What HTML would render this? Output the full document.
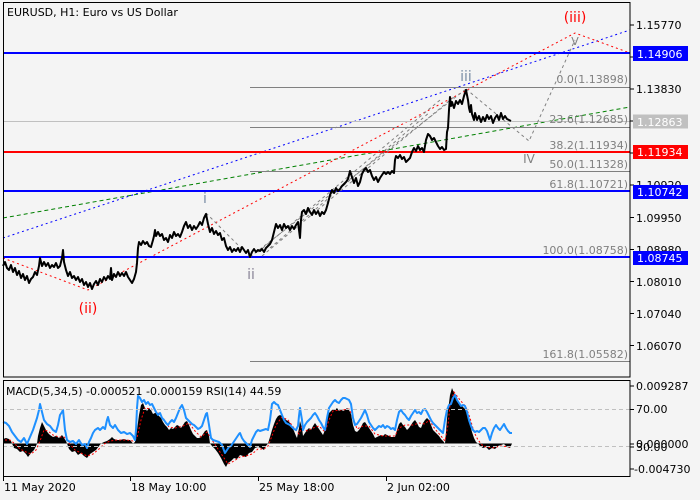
<!DOCTYPE html>
<html><head><meta charset="utf-8"><style>
html,body{margin:0;padding:0;background:#f4f4f4;}
svg{display:block;font-family:"DejaVu Sans","Liberation Sans",sans-serif;}
</style></head><body>
<svg width="700" height="500" viewBox="0 0 700 500" xmlns="http://www.w3.org/2000/svg">
<rect width="700" height="500" fill="#f4f4f4"/>
<text x="7" y="16" font-size="11" fill="#000">EURUSD, H1:  Euro vs US Dollar</text>

<!-- trend lines -->
<polyline points="3,218 630,107" fill="none" stroke="#008000" stroke-width="1" stroke-dasharray="4,3"/>
<polyline points="3,238 630,30" fill="none" stroke="#0000ff" stroke-width="1" stroke-dasharray="2,3"/>
<polyline points="3,258 88,290 575,33 630,53" fill="none" stroke="#ff0000" stroke-width="1" stroke-dasharray="2,3"/>

<!-- horizontal levels -->
<line x1="3" y1="121.5" x2="630" y2="121.5" stroke="#c0c0c0" stroke-width="1"/>
<g stroke="#808080" stroke-width="1">
<line x1="250" y1="87.5" x2="630" y2="87.5"/>
<line x1="250" y1="127.5" x2="630" y2="127.5"/>
<line x1="250" y1="151.5" x2="630" y2="151.5"/>
<line x1="250" y1="171.5" x2="630" y2="171.5"/>
<line x1="250" y1="191.5" x2="630" y2="191.5"/>
<line x1="250" y1="256.5" x2="630" y2="256.5"/>
<line x1="250" y1="361.5" x2="630" y2="361.5"/>
</g>
<g fill="#808080" font-size="11" text-anchor="end">
<text x="628" y="83">0.0(1.13898)</text>
<text x="628" y="123">23.6(1.12685)</text>
<text x="628" y="149">38.2(1.11934)</text>
<text x="628" y="168">50.0(1.11328)</text>
<text x="628" y="188">61.8(1.10721)</text>
<text x="628" y="254">100.0(1.08758)</text>
<text x="628" y="358">161.8(1.05582)</text>
</g>
<line x1="3" y1="53" x2="630" y2="53" stroke="#0000ff" stroke-width="2"/>
<line x1="3" y1="152" x2="630" y2="152" stroke="#ff0000" stroke-width="2"/>
<line x1="3" y1="191" x2="630" y2="191" stroke="#0000ff" stroke-width="2"/>
<line x1="3" y1="257" x2="630" y2="257" stroke="#0000ff" stroke-width="2"/>

<!-- wave dashed lines -->
<g fill="none" stroke="#808080" stroke-width="1" stroke-dasharray="3,3">
<polyline points="206,213 250,257"/>
<polyline points="466,89 529,141 575,40"/>
<polyline points="250,257 466,89"/>
<polyline points="258,252 440,100"/>
<polyline points="262,256 455,96"/>
<polyline points="270,248 430,112"/>
</g>

<!-- price -->
<polyline fill="none" stroke="#000" stroke-width="2" stroke-linejoin="round" points="3,266 5,262 7,268 9,270 11,265 13,272 15,268 17,275 19,271 21,278 23,274 25,280 27,276 29,283 31,279 33,277 35,272 37,275 39,266 40,258 42,266 44,262 46,266 48,263 50,268 52,265 54,267 56,263 58,268 60,266 62,258 63,250 64,262 66,270 68,276 70,272 72,278 74,276 76,280 78,277 80,282 82,279 84,285 86,282 88,287 90,283 92,289 94,284 96,281 98,285 100,279 102,282 104,277 106,280 108,276 110,279 111,268 112,280 114,274 116,277 118,272 120,276 122,273 124,276 126,272 128,277 130,280 132,283 134,279 136,272 137,263 138,248 139,242 141,245 143,241 145,244 147,242 149,246 151,247 153,240 154,236 155,230 156,236 158,232 160,236 162,234 164,240 166,238 168,242 170,235 172,238 174,232 176,236 178,234 180,237 182,232 184,226 186,222 188,228 190,225 192,230 194,226 196,229 198,226 200,222 202,225 204,218 206,214 208,224 210,232 212,228 214,234 216,231 218,235 220,233 222,240 224,238 226,246 228,250 230,247 232,252 234,249 236,251 238,248 240,252 242,247 244,250 246,253 248,250 250,257 252,252 254,249 256,252 258,250 260,251 262,249 264,252 266,248 268,246 270,244 272,240 274,232 276,224 278,228 280,225 282,230 284,224 286,228 288,226 290,230 292,226 294,229 296,225 298,222 299,230 300,238 301,220 302,212 304,210 306,214 308,208 310,212 312,215 314,210 316,214 318,211 320,216 322,212 324,214 326,210 328,203 330,195 332,190 334,193 336,188 338,191 340,189 342,186 344,184 346,182 348,179 350,171 352,177 354,183 356,178 358,186 360,182 362,174 364,170 366,168 368,172 370,170 372,176 374,180 376,177 378,182 380,178 382,175 384,172 386,174 388,172 390,174 392,171 394,173 395,160 396,156 398,158 400,155 402,159 404,157 406,162 408,160 410,158 412,152 414,148 416,151 418,146 420,150 422,148 424,152 426,140 428,134 430,136 432,140 434,138 436,142 438,146 440,149 442,147 444,150 446,149 447,132 448,128 449,110 450,97 451,106 452,102 454,108 456,101 458,104 460,100 462,104 464,96 466,90 467,95 468,100 469,108 470,112 471,105 472,114 474,120 475,113 477,120 479,116 481,122 483,117 485,121 487,115 489,119 491,116 493,123 495,118 497,115 499,120 501,113 503,119 505,116 507,119 509,120 511,121"/>

<!-- wave labels -->
<text x="575" y="22" font-size="14" fill="#ff0000" text-anchor="middle">(iii)</text>
<text x="88" y="313" font-size="14" fill="#ff0000" text-anchor="middle">(ii)</text>
<text x="466" y="81" font-size="14" fill="#7a8ea6" text-anchor="middle">iii</text>
<text x="205" y="203" font-size="14" fill="#7a8ea6" text-anchor="middle">i</text>
<text x="251" y="279" font-size="14" fill="#8a8598" text-anchor="middle">ii</text>
<text x="529" y="163" font-size="12" fill="#808080" text-anchor="middle">IV</text>
<text x="575" y="45" font-size="11" fill="#808080" text-anchor="middle">V</text>

<!-- main frame -->
<rect x="3.5" y="2.5" width="626.5" height="374.5" fill="none" stroke="#000" stroke-width="1"/>

<!-- right axis ticks/labels -->
<g stroke="#000" stroke-width="1">
<line x1="630" y1="25" x2="634" y2="25"/><line x1="630" y1="57" x2="634" y2="57"/>
<line x1="630" y1="89" x2="634" y2="89"/><line x1="630" y1="121" x2="634" y2="121"/>
<line x1="630" y1="153" x2="634" y2="153"/><line x1="630" y1="185" x2="634" y2="185"/>
<line x1="630" y1="217.5" x2="634" y2="217.5"/><line x1="630" y1="249.5" x2="634" y2="249.5"/>
<line x1="630" y1="281.5" x2="634" y2="281.5"/><line x1="630" y1="313.5" x2="634" y2="313.5"/>
<line x1="630" y1="345.5" x2="634" y2="345.5"/>
</g>
<g font-size="11" fill="#000">
<text x="636" y="29">1.15770</text>
<text x="636" y="61">1.14800</text>
<text x="636" y="93">1.13830</text>
<text x="636" y="125">1.12860</text>
<text x="636" y="157">1.11890</text>
<text x="636" y="189">1.10920</text>
<text x="636" y="222">1.09950</text>
<text x="636" y="254">1.08980</text>
<text x="636" y="286">1.08010</text>
<text x="636" y="318">1.07040</text>
<text x="636" y="350">1.06070</text>
</g>
<rect x="633" y="46" width="55" height="15" fill="#0000ff"/>
<rect x="633" y="114.5" width="55" height="14" fill="#c0c0c0"/>
<rect x="633" y="145" width="55" height="14" fill="#ff0000"/>
<rect x="633" y="185" width="55" height="14" fill="#0000ff"/>
<rect x="633" y="251" width="55" height="14" fill="#0000ff"/>
<g font-size="11" fill="#fff">
<text x="637" y="58">1.14906</text>
<text x="637" y="126">1.12863</text>
<text x="637" y="156">1.11934</text>
<text x="637" y="196">1.10742</text>
<text x="637" y="262">1.08745</text>
</g>

<!-- MACD panel -->
<polygon fill="#000" points="3,443.5 3,439 6,438 9,439 11,441 12,443.5 14,448 17,449 20,452 23,451 26,454 28,457 31,453 34,450 36,446 37,443.5 38,436 40,428 42,422 44,426 46,430 48,433 50,435 53,437 56,436 59,438 62,435 64,438 66,441 67,443.5 69,449 72,452 75,451 78,455 81,453 84,456 87,458 90,454 93,452 96,450 99,446 101,443.5 104,442 107,441 110,439 112,437 114,439 117,440 120,440 124,439 127,440 130,440 133,443.5 135,442 137,430 139,415 141,405 143,403 145,408 147,411 149,408 151,410 153,414 155,413 157,412 159,416 161,418 163,422 165,425 167,427 169,430 171,428 173,429 175,427 177,425 179,426 181,428 183,425 185,422 187,421 189,425 191,430 193,434 195,436 197,438 199,438 201,437 203,434 205,431 207,430 209,436 210,443.5 212,446 215,449 218,453 221,458 224,464 226,467 228,463 231,461 234,458 237,459 240,455 243,456 246,457 249,453 252,452 255,448 258,447 261,448 264,450 266,446 268,443.5 270,437 272,430 274,424 276,419 278,416 280,415 282,416 284,418 286,420 288,421 290,423 292,427 294,431 296,436 297,438 299,428 300,421 302,428 303,436 305,433 307,430 309,428 311,430 313,426 315,423 317,426 319,429 321,432 323,435 325,430 327,420 329,413 331,411 333,409 335,410 337,408 339,411 341,409 343,411 345,410 347,408 349,410 351,414 353,425 355,431 357,432 359,430 361,427 363,423 365,422 367,425 369,428 371,431 373,434 375,438 377,437 379,436 381,435 383,436 385,434 387,435 389,436 391,437 393,437 395,437 397,430 399,424 401,422 403,425 405,427 407,430 409,428 411,425 413,422 415,420 417,423 419,427 421,428 423,423 425,420 427,418 429,420 431,425 433,430 435,432 437,434 439,436 441,439 443,441 445,443.5 446,432 447,418 448,410 449,403 450,395 452,388 454,393 456,398 458,401 460,404 462,406 464,408 466,410 468,418 470,425 472,432 474,438 476,442 478,443.5 480,446 483,448 486,447 489,450 492,448 495,449 498,446 501,445 504,444 507,447 510,448 512,443.5"/>
<polyline fill="none" stroke="#ff0000" stroke-width="1" stroke-dasharray="2,2" points="5,440 10,440 14,443 20,449 26,452 31,454 36,450 40,441 44,430 48,431 53,435 59,437 64,437 69,443 75,450 81,453 87,456 93,454 99,449 104,444 110,441 117,440 127,440 133,441 137,438 141,420 145,408 151,409 157,412 163,418 169,427 175,428 183,426 189,423 195,431 201,437 207,432 212,440 218,449 224,458 228,464 234,461 240,457 246,456 252,454 258,449 264,449 268,446 272,436 276,425 282,417 288,420 294,428 299,434 302,426 307,431 313,428 319,426 325,432 329,420 333,411 341,410 349,409 353,417 357,429 363,426 369,426 375,434 383,436 395,436 399,428 405,425 413,425 419,423 425,424 429,420 435,429 441,436 445,441 448,425 450,405 454,392 460,400 466,407 470,418 474,432 478,440 483,446 492,448 501,446 510,447"/>
<polyline fill="none" stroke="#1e90ff" stroke-width="2" stroke-linejoin="round" points="3,422 6,423 9,426 12,432 15,436 18,440 21,442 24,438 27,444 30,437 33,430 35,424 37,418 39,410 40,404 42,412 44,420 47,424 50,426 53,430 56,432 58,425 60,415 62,412 63,410 65,430 67,440 70,442 73,441 76,444 79,440 82,445 85,444 87,448 89,442 91,438 93,433 95,430 98,428 100,430 103,427 105,429 107,420 108,417 110,425 113,428 115,425 118,430 121,433 124,432 127,434 130,433 133,436 135,440 136,430 137,408 138,396 140,398 142,402 144,400 146,404 148,402 150,405 152,404 154,408 156,412 158,415 160,413 162,418 164,420 166,423 168,425 170,422 172,420 174,422 176,418 178,413 180,408 182,405 184,410 186,418 188,420 190,422 192,424 194,425 196,427 198,429 200,428 202,426 204,420 206,414 207,413 209,425 211,438 213,440 216,441 219,442 222,445 225,453 227,450 229,447 231,446 233,443 235,440 237,437 239,434 240,433 242,438 244,441 246,443 248,445 250,447 252,440 254,436 256,432 258,430 260,431 263,430 266,429 268,430 270,420 272,404 274,402 276,404 278,405 280,410 282,415 284,420 286,423 288,424 290,425 292,427 294,429 296,430 298,426 299,416 300,408 302,420 303,430 305,425 307,422 309,420 311,418 313,415 315,413 317,416 319,420 321,423 323,427 325,430 327,418 329,408 331,405 333,402 335,400 337,402 339,403 341,400 343,398 345,398 347,399 349,400 351,404 353,418 355,425 357,424 359,421 361,418 363,414 365,410 367,415 369,422 371,425 373,428 375,430 377,428 379,426 381,427 383,425 385,428 387,426 389,427 391,429 393,428 395,430 397,420 399,412 401,410 403,413 405,415 407,418 409,420 411,416 413,413 415,410 417,413 419,412 421,414 423,410 425,409 427,412 429,416 431,420 433,423 435,425 437,427 439,429 441,431 443,433 445,420 447,410 449,405 451,404 453,398 455,395 457,400 459,403 461,406 463,405 465,406 467,412 469,420 471,426 473,430 475,432 477,431 479,432 481,430 483,428 485,428 487,431 489,437 490,440 492,433 494,428 496,425 498,428 500,430 502,427 504,424 506,428 508,431 510,433 512,433"/>
<line x1="3" y1="409.5" x2="630" y2="409.5" stroke="#c0c0c0" stroke-width="1" stroke-dasharray="4,3"/>
<line x1="3" y1="446.5" x2="630" y2="446.5" stroke="#c0c0c0" stroke-width="1" stroke-dasharray="4,3"/>
<text x="6" y="395" font-size="11" fill="#000">MACD(5,34,5) -0.000521 -0.000159 RSI(14) 44.59</text>
<rect x="3.5" y="380.5" width="626.5" height="96" fill="none" stroke="#000" stroke-width="1"/>
<g stroke="#000" stroke-width="1">
<line x1="630" y1="386" x2="634" y2="386"/><line x1="630" y1="409.5" x2="634" y2="409.5"/>
<line x1="630" y1="444" x2="634" y2="444"/><line x1="630" y1="447" x2="634" y2="447"/>
<line x1="630" y1="469" x2="634" y2="469"/>
</g>
<g font-size="11" fill="#000">
<text x="636" y="390">0.009287</text>
<text x="636" y="413">70.00</text>
<text x="636" y="451">30.00</text>
<text x="636" y="448">0.000000</text>
<text x="634" y="473">-0.004730</text>
</g>

<!-- x axis -->
<g stroke="#000" stroke-width="1">
<line x1="3.5" y1="477" x2="3.5" y2="481"/>
<line x1="130.5" y1="477" x2="130.5" y2="481"/>
<line x1="258.5" y1="477" x2="258.5" y2="481"/>
<line x1="386.5" y1="477" x2="386.5" y2="481"/>
</g>
<g font-size="11" fill="#000">
<text x="4" y="491">11 May 2020</text>
<text x="131" y="491">18 May 10:00</text>
<text x="259" y="491">25 May 18:00</text>
<text x="387" y="491">2 Jun 02:00</text>
</g>
</svg>
</body></html>
